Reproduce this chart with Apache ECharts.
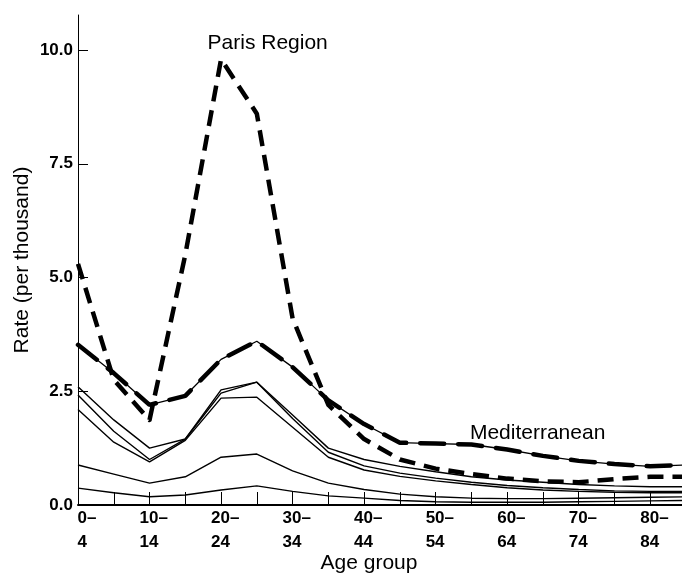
<!DOCTYPE html>
<html>
<head>
<meta charset="utf-8">
<script src="https://cdn.jsdelivr.net/npm/echarts@6/dist/echarts.min.js"></script>
<style>
html,body{margin:0;padding:0;background:#fff;}
#chart{width:682px;height:573px;}
</style>
</head>
<body>
<div id="chart"></div>
<script>
const ageGroups = ['0–4','5–9','10–14','15–19','20–24','25–29','30–34','35–39','40–44','45–49','50–54','55–59','60–64','65–69','70–74','75–79','80–84','85+'];
const yTicks = [0, 2.5, 5, 7.5, 10];

const parisRegion   = [5.3, 2.75, 1.87, 5.5, 9.8, 8.6, 4.1, 2.2, 1.45, 1.0, 0.8, 0.68, 0.58, 0.52, 0.5, 0.57, 0.62, 0.62];
const mediterranean = [3.52, 2.9, 2.2, 2.4, 3.2, 3.6, 3.03, 2.3, 1.78, 1.37, 1.35, 1.33, 1.22, 1.08, 0.97, 0.9, 0.85, 0.88];
const region1 = [2.6, 1.87, 1.25, 1.45, 2.53, 2.7, 1.98, 1.25, 1.0, 0.85, 0.73, 0.62, 0.55, 0.5, 0.45, 0.42, 0.4, 0.4];
const region2 = [2.42, 1.62, 1.0, 1.45, 2.46, 2.7, 1.9, 1.16, 0.86, 0.7, 0.59, 0.5, 0.43, 0.38, 0.34, 0.31, 0.3, 0.3];
const region3 = [2.1, 1.38, 0.95, 1.42, 2.35, 2.37, 1.71, 1.05, 0.77, 0.63, 0.53, 0.45, 0.38, 0.33, 0.3, 0.28, 0.27, 0.27];
const region4 = [0.88, 0.68, 0.48, 0.62, 1.05, 1.12, 0.75, 0.48, 0.34, 0.24, 0.18, 0.15, 0.14, 0.14, 0.15, 0.16, 0.17, 0.18];
const region5 = [0.37, 0.27, 0.18, 0.22, 0.33, 0.42, 0.3, 0.2, 0.15, 0.1, 0.07, 0.06, 0.06, 0.06, 0.07, 0.08, 0.09, 0.1];

const labelParis = {text: 'Paris Region', at: ['20–24', 10.15]};
const labelMed = {text: 'Mediterranean', at: ['55–59', 1.58]};

const FONT = "'Liberation Sans', Arial, sans-serif";
const chart = echarts.init(document.getElementById('chart'), null, {renderer: 'canvas'});

function thin(name, data) {
  return {name, type: 'line', data, symbol: 'none', silent: true,
    lineStyle: {color: '#000', width: 1.4}, z: 2};
}

function annotation(lbl, dx) {
  return {
    symbol: 'circle', symbolSize: 1, itemStyle: {color: 'rgba(0,0,0,0)'},
    silent: true,
    label: {show: true, position: 'right', distance: 0, offset: [dx, 0], formatter: lbl.text,
      color: '#000', fontFamily: FONT, fontSize: 21},
    data: [{coord: lbl.at}]
  };
}

const option = {
  backgroundColor: '#fff',
  animation: false,
  grid: {left: 78, right: -4, top: 15, bottom: 68, containLabel: false, outerBoundsMode: 'none'},
  xAxis: {
    type: 'category', data: ageGroups, boundaryGap: false,
    name: 'Age group', nameLocation: 'middle', nameGap: 48, nameMoveOverlap: false,
    nameTextStyle: {fontFamily: FONT, fontSize: 21, color: '#000', padding: [0, 26, 0, 0]},
    axisLine: {lineStyle: {color: '#000', width: 2}},
    axisTick: {show: true, inside: true, length: 13, interval: 0, lineStyle: {color: '#000', width: 1}},
    axisLabel: {
      interval: 1, margin: 1, color: '#000', fontFamily: FONT, fontSize: 17, fontWeight: 'bold',
      lineHeight: 24,
      formatter: function (v) {
        const p = v.split('–');
        const s = p[0].length > 1 ? 'w' : 'n';
        return '{' + s + '|' + p[0] + '–}\n{' + s + '|' + p[1] + '}';
      },
      rich: {
        w: {width: 20, align: 'left', fontFamily: FONT, fontSize: 17, fontWeight: 'bold', color: '#000', lineHeight: 24},
        n: {width: 1, align: 'left', fontFamily: FONT, fontSize: 17, fontWeight: 'bold', color: '#000', lineHeight: 24}
      }
    },
    splitLine: {show: false}
  },
  yAxis: {
    type: 'value', min: 0, max: 10.77, interval: 2.5,
    name: 'Rate (per thousand)', nameLocation: 'middle', nameGap: 45, nameMoveOverlap: false,
    nameTextStyle: {fontFamily: FONT, fontSize: 21, color: '#000'},
    axisLine: {show: true, lineStyle: {color: '#000', width: 1}},
    axisTick: {show: true, inside: true, length: 10, customValues: yTicks, lineStyle: {color: '#000', width: 1}},
    axisLabel: {margin: 5, color: '#000', fontFamily: FONT, fontSize: 17, fontWeight: 'bold',
      customValues: yTicks, formatter: v => v.toFixed(1)},
    splitLine: {show: false}
  },
  series: [
    thin('r5', region5),
    thin('r4', region4),
    thin('r3', region3),
    thin('r2', region2),
    thin('r1', region1),
    {name: 'Mediterranean', type: 'line', data: mediterranean, symbol: 'none', silent: true,
      lineStyle: {color: '#000', width: 1.3}, z: 3},
    {name: 'Mediterranean dashes', type: 'line', data: mediterranean, symbol: 'none', silent: true,
      lineStyle: {color: '#000', width: 4.5, type: [24, 14], cap: 'round'}, z: 3,
      markPoint: annotation(labelMed, -2)},
    {name: 'Paris Region', type: 'line', data: parisRegion, symbol: 'none', silent: true,
      lineStyle: {color: '#000', width: 4.5, type: [16, 9], cap: 'butt', join: 'round'}, z: 4,
      markPoint: annotation(labelParis, -14)}
  ]
};
chart.setOption(option);
</script>
</body>
</html>
